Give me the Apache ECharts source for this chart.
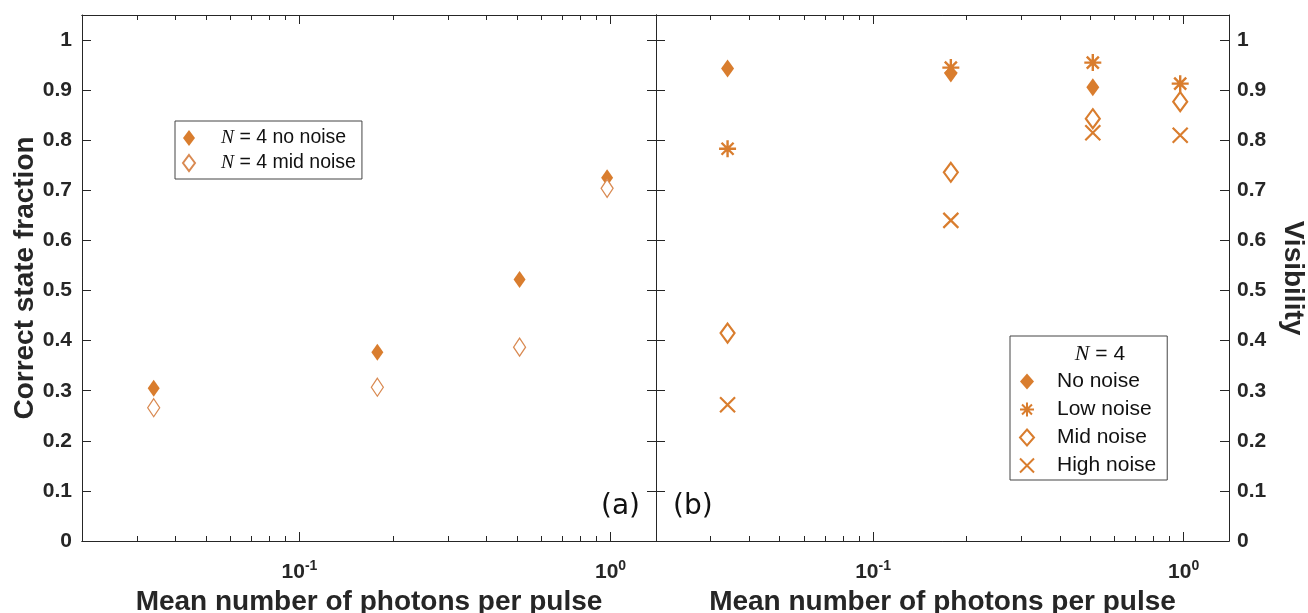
<!DOCTYPE html>
<html><head><meta charset="utf-8">
<script src="https://cdn.jsdelivr.net/npm/echarts@6/dist/echarts.min.js"></script>
<style>html,body{margin:0;padding:0;background:#fff}#c{width:1308px;height:613px}</style>
</head><body><div id="c"></div>
<script>
// ---- data ----
const xMin = 0.02, xMax = 1.4;
const xMajorTicks = [0.1, 1];
const xMinorTicks = [0.03, 0.04, 0.05, 0.06, 0.07, 0.08, 0.09, 0.2, 0.3, 0.4, 0.5, 0.6, 0.7, 0.8, 0.9];
const yTicks = [0, 0.1, 0.2, 0.3, 0.4, 0.5, 0.6, 0.7, 0.8, 0.9, 1];
const photons = [0.034, 0.178, 0.51, 0.975];
const fracNoNoise = [0.305, 0.377, 0.522, 0.725];
const fracMidNoise = [0.266, 0.307, 0.387, 0.704];
const visNoNoise = [0.943, 0.933, 0.906, null];
const visLowNoise = [0.783, 0.945, 0.955, 0.913];
const visMidNoise = [0.415, 0.736, 0.843, 0.877];
const visHighNoise = [0.272, 0.640, 0.815, 0.810];
const leftLegend = ['N = 4 no noise', 'N = 4 mid noise'];
const rightLegend = ['No noise', 'Low noise', 'Mid noise', 'High noise'];

// ---- style ----
const AX = '#262626';
const OR = '#D97D2E';
const OR_LIGHT = '#D98A52';
const FONT = '"Liberation Sans", Arial, sans-serif';
const ASTER = 'path://M12,0L12,24M0,12L24,12M3.5,3.5L20.5,20.5M3.5,20.5L20.5,3.5';
const CROSS = 'path://M0,0L20,20M0,20L20,0';

const pairs = (ys) => photons.map((x, i) => [x, ys[i]]).filter(p => p[1] != null);

const supFmt = v => {
  const e = Math.round(Math.log10(v));
  return '{b|10}{s|' + e + '}';
};

function xAxes(gridIndex) {
  const base = {
    type: 'log', logBase: 10, gridIndex, min: xMin, max: xMax,
    splitLine: { show: false },
    axisLine: { show: true, onZero: false, lineStyle: { color: AX, width: 1 } }
  };
  return [
    Object.assign({}, base, {
      position: 'bottom',
      name: 'Mean number of photons per pulse', nameLocation: 'middle', nameGap: 47,
      nameTextStyle: { fontFamily: FONT, fontWeight: 'bold', fontSize: 28, color: AX },
      axisTick: { inside: true, length: 9, customValues: xMajorTicks, lineStyle: { color: AX } },
      axisLabel: {
        customValues: xMajorTicks, formatter: supFmt, margin: 18,
        rich: {
          b: { fontFamily: FONT, fontWeight: 'bold', fontSize: 21, color: AX },
          s: { fontFamily: FONT, fontWeight: 'bold', fontSize: 14, color: AX, verticalAlign: 'bottom', padding: [0, 0, 13, 0] }
        }
      }
    }),
    Object.assign({}, base, {
      position: 'bottom',
      axisTick: { inside: true, length: 5, customValues: xMinorTicks, lineStyle: { color: AX } },
      axisLabel: { show: false }
    }),
    Object.assign({}, base, {
      position: 'top',
      axisTick: { inside: true, length: 9, customValues: xMajorTicks, lineStyle: { color: AX } },
      axisLabel: { show: false }
    }),
    Object.assign({}, base, {
      position: 'top',
      axisTick: { inside: true, length: 5, customValues: xMinorTicks, lineStyle: { color: AX } },
      axisLabel: { show: false }
    })
  ];
}

function yAxis(gridIndex, position, showLabels, name, nameGap, nameRotate) {
  const a = {
    type: 'value', gridIndex, position, min: 0, max: 1.05,
    splitLine: { show: false },
    axisLine: { show: true, onZero: false, lineStyle: { color: AX, width: 1 } },
    axisTick: { inside: true, length: 9, customValues: yTicks, lineStyle: { color: AX } },
    axisLabel: {
      show: showLabels, customValues: yTicks, margin: position === 'left' ? 10 : 8,
      fontFamily: FONT, fontWeight: 'bold', fontSize: 21, color: AX,
      formatter: v => String(v)
    }
  };
  if (name) {
    a.name = name; a.nameLocation = 'middle'; a.nameGap = nameGap; a.nameRotate = nameRotate;
    a.nameTextStyle = { fontFamily: FONT, fontWeight: 'bold', fontSize: 28, color: AX };
  }
  return a;
}

const legendRich = {
  i: { fontFamily: '"Liberation Serif", "Times New Roman", serif', fontStyle: 'italic', fontSize: 19.5, color: '#111' }
};
const legendRich2 = {
  i: { fontFamily: '"Liberation Serif", "Times New Roman", serif', fontStyle: 'italic', fontSize: 22, color: '#111' }
};

const option = {
  backgroundColor: '#fff',
  animation: false,
  grid: [
    { left: 82, top: 15, width: 574, height: 526, containLabel: false, outerBoundsMode: 'none' },
    { left: 656, top: 15, width: 573, height: 526, containLabel: false, outerBoundsMode: 'none' }
  ],
  xAxis: [].concat(xAxes(0), xAxes(1)),
  yAxis: [
    yAxis(0, 'left', true, 'Correct state fraction', 43, 90),
    yAxis(0, 'right', false),
    yAxis(1, 'left', false),
    yAxis(1, 'right', true, 'Visibility', 50, -90)
  ],
  legend: [
    {
      data: leftLegend, orient: 'vertical', left: 175, top: 121,
      padding: [7, 6, 6, 7], itemWidth: 12, itemHeight: 16, itemGap: 5,
      borderColor: '#444', borderWidth: 1, selectedMode: false,
      formatter: n => n.replace('N', '{i|N}'),
      textStyle: { fontFamily: FONT, fontSize: 19.5, color: '#111', padding: [0, 0, 0, 21], rich: legendRich }
    },
    {
      data: rightLegend, orient: 'vertical', left: 1010, top: 336,
      padding: [35, 11, 4, 9], itemWidth: 14, itemHeight: 16, itemGap: 7,
      borderColor: '#444', borderWidth: 1, selectedMode: false,
      textStyle: { fontFamily: FONT, fontSize: 21, color: '#111', padding: [0, 0, 0, 18] }
    }
  ],
  graphic: [
    { type: 'text', x: 1100, y: 354, style: { text: '{i|N} = 4', font: '21px ' + FONT, fill: '#111', align: 'center', verticalAlign: 'middle', rich: legendRich2 } },
    { type: 'text', x: 640, y: 507, style: { text: '(a)', font: '28px "DejaVu Sans", sans-serif', fill: '#111', align: 'right', verticalAlign: 'middle' } },
    { type: 'text', x: 673, y: 507, style: { text: '(b)', font: '28px "DejaVu Sans", sans-serif', fill: '#111', align: 'left', verticalAlign: 'middle' } }
  ],
  series: [
    { name: leftLegend[0], type: 'scatter', xAxisIndex: 0, yAxisIndex: 0, data: pairs(fracNoNoise),
      symbol: 'diamond', symbolSize: [12, 17], itemStyle: { color: OR, opacity: 1 } },
    { name: leftLegend[1], type: 'scatter', xAxisIndex: 0, yAxisIndex: 0, data: pairs(fracMidNoise),
      symbol: 'diamond', symbolSize: [12, 18], itemStyle: { color: '#fff', borderColor: OR_LIGHT, borderWidth: 1.3, opacity: 1 } },
    { name: rightLegend[0], type: 'scatter', xAxisIndex: 4, yAxisIndex: 3, data: pairs(visNoNoise),
      symbol: 'diamond', symbolSize: [13, 18], itemStyle: { color: OR, opacity: 1 } },
    { name: rightLegend[1], type: 'scatter', xAxisIndex: 4, yAxisIndex: 3, data: pairs(visLowNoise),
      symbol: ASTER, symbolSize: 17, itemStyle: { color: OR, borderColor: OR, borderWidth: 2.4, opacity: 1 } },
    { name: rightLegend[2], type: 'scatter', xAxisIndex: 4, yAxisIndex: 3, data: pairs(visMidNoise),
      symbol: 'diamond', symbolSize: [14, 19], itemStyle: { color: 'rgba(255,255,255,0)', borderColor: OR, borderWidth: 2.2, opacity: 1 } },
    { name: rightLegend[3], type: 'scatter', xAxisIndex: 4, yAxisIndex: 3, data: pairs(visHighNoise),
      symbol: CROSS, symbolSize: 15, itemStyle: { color: OR, borderColor: OR, borderWidth: 2.2, opacity: 1 } }
  ]
};

const chart = echarts.init(document.getElementById('c'), null, { renderer: 'canvas' });
chart.setOption(option);
</script>
</body></html>
